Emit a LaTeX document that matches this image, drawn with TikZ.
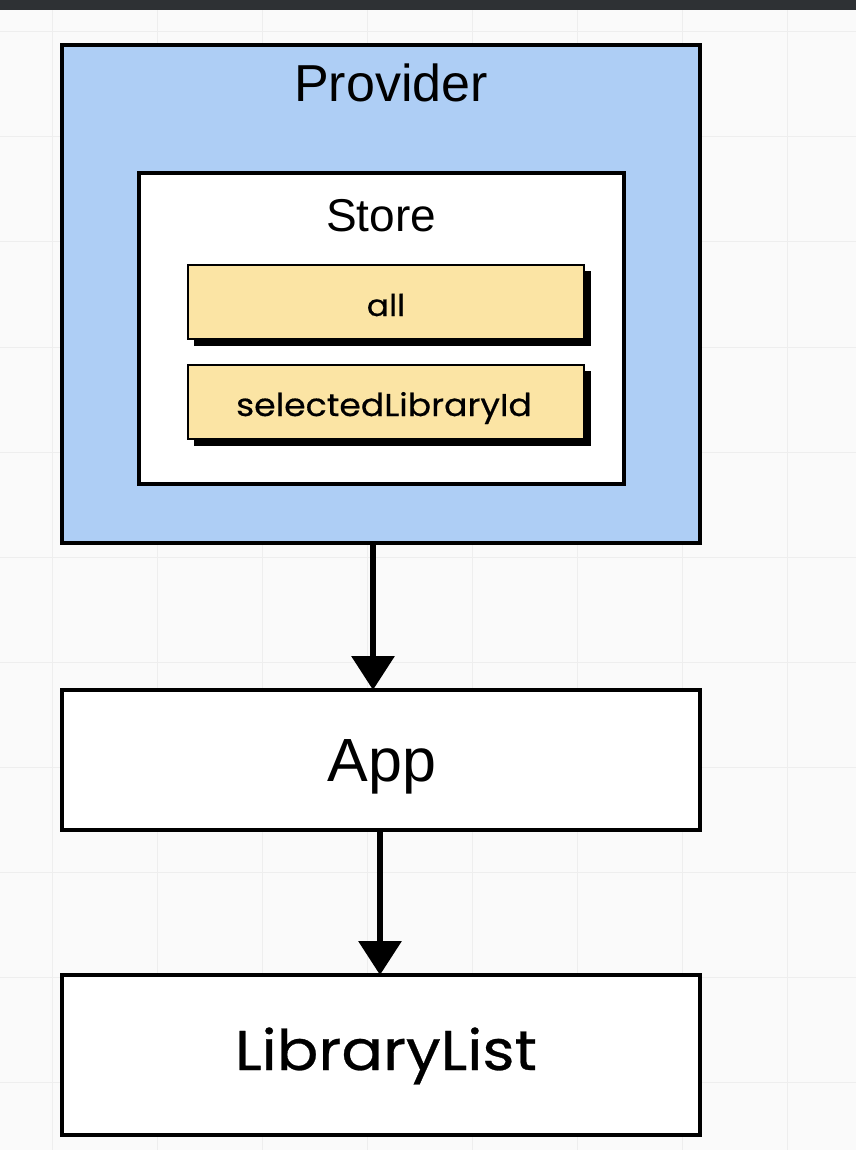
\documentclass[tikz,border=0pt]{standalone}
\usepackage{fontspec}
\setmainfont{Liberation Sans}
\newfontfamily\roundfont[FakeStretch=1.1,FakeBold=0.5]{Poppins}
\usetikzlibrary{arrows.meta}
\definecolor{bar}{HTML}{2E3134}
\definecolor{gridc}{HTML}{EEEEEE}
\definecolor{provfill}{HTML}{AECEF5}
\definecolor{fieldfill}{HTML}{FBE4A4}
\tikzset{
  box/.style={draw=black, line width=3.5pt, fill=white},
  field/.style={draw=black, line width=2.5pt, fill=fieldfill},
  shadowbox/.style={fill=black},
  link/.style={line width=6.5pt, -{Triangle[width=42pt,length=34pt]}},
  lbl/.style={inner sep=0pt, anchor=base, text=black}
}
\begin{document}
\begin{tikzpicture}[x=1pt,y=-1pt]
  % canvas and faint grid
  \fill[white!98!black] (0,0) rectangle (856,1150);
  \useasboundingbox (0,0) rectangle (856,1150);
  \foreach \gx in {52,157,262,367,472,577,682,787}
    \draw[gridc, line width=1pt] (\gx,10) -- (\gx,1150);
  \foreach \gy in {32,137,242,347,452,557,662,767,872,977,1082}
    \draw[gridc, line width=1pt] (0,\gy) -- (856,\gy);
  \fill[bar] (0,0) rectangle (856,10);

  % Provider with the store inside
  \draw[box, fill=provfill] (62,45) rectangle (700,543);
  \coordinate (provB) at (373,543);
  \node[lbl, font=\fontsize{52}{56}\selectfont] (provider) at (391,102) {Provider};
  \draw[box] (139,173) rectangle (624,484);
  \node[lbl, font=\fontsize{46}{50}\selectfont] (store) at (381,232) {Store};

  % store fields with drop shadows
  \fill[shadowbox] (194,271) rectangle (591,346);
  \draw[field] (188,265) rectangle (584,339);
  \node[lbl, font=\roundfont\fontsize{30}{32}\selectfont] (all) at (386,316) {all};
  \fill[shadowbox] (194,371) rectangle (591,446);
  \draw[field] (188,365) rectangle (584,439);
  \node[lbl, font=\roundfont\fontsize{31.5}{34}\selectfont] (sel) at (384,416) {selectedLibraryId};

  % App
  \draw[box] (62,690) rectangle (700,830);
  \coordinate (appT) at (373,690);
  \coordinate (appB) at (380,830);
  \node[lbl, font=\fontsize{61}{65}\selectfont] (app) at (382,781) {App};

  % LibraryList
  \draw[box] (62,975) rectangle (700,1135);
  \coordinate (libT) at (380,975);
  \node[lbl, font=\roundfont\fontsize{56}{60}\selectfont] (lib) at (386,1070) {LibraryList};

  % connectors
  \draw[link] (provB) -- (appT);
  \draw[link] (appB) -- (libT);
\end{tikzpicture}
\end{document}
